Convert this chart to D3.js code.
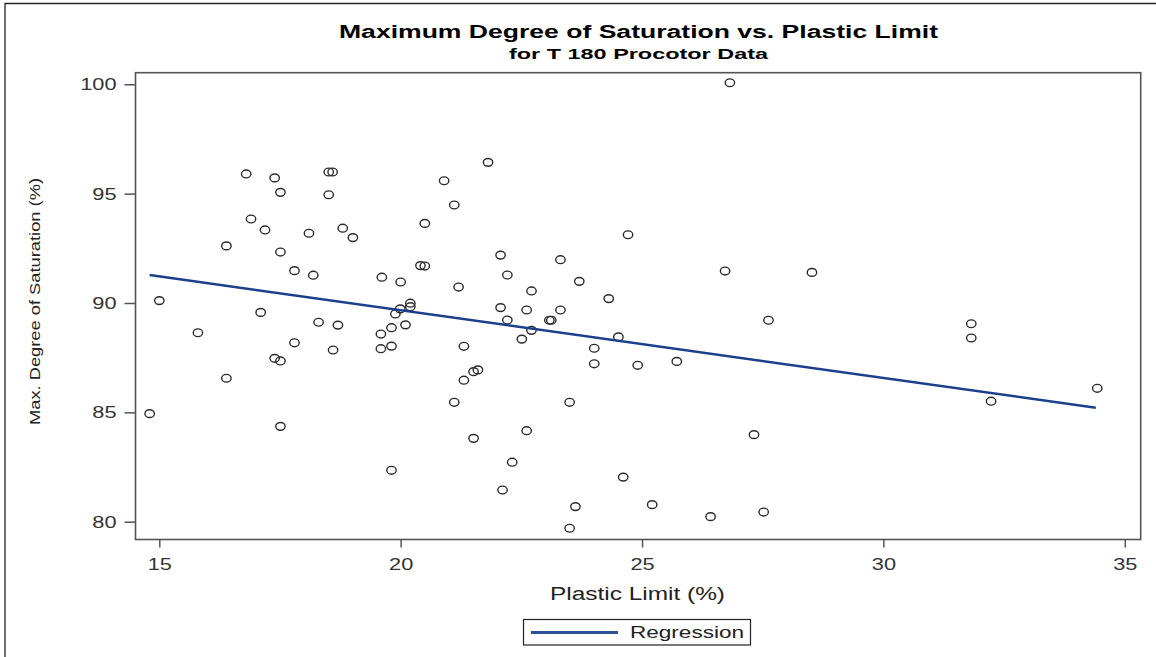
<!DOCTYPE html>
<html>
<head>
<meta charset="utf-8">
<script src="https://cdn.jsdelivr.net/npm/d3@7"></script>
<style>
  body { margin: 0; background: #fff; }
  text { font-family: "Liberation Sans", Arial, sans-serif; }
</style>
</head>
<body>
<script>
// data
const plasticLimit = [
  16.80, 17.39, 17.51, 18.51, 18.59, 18.51, 16.90, 17.19, 18.10, 18.80,
  19.01, 16.39, 17.51, 17.80, 18.19, 19.61, 20.00, 15.00, 17.10, 18.30,
  18.70, 15.80, 19.59, 19.81, 20.10, 19.89, 19.99, 20.20, 20.20, 17.80,
  18.60, 19.59, 19.81, 17.39, 17.51, 16.39, 14.80, 17.51, 19.81, 21.81,
  20.90, 21.11, 20.50, 20.41, 20.50, 22.07, 21.20, 22.07, 24.71, 23.31,
  22.21, 23.70, 22.71, 24.31, 22.61, 23.31, 22.21, 23.08, 23.12, 22.71,
  22.51, 24.51, 24.01, 21.31, 24.01, 24.91, 21.60, 21.51, 21.31, 21.11,
  23.50, 22.61, 21.51, 22.31, 24.61, 22.11, 23.62, 25.21, 23.50, 26.82,
  26.72, 28.52, 27.62, 25.72, 27.32, 26.42, 27.52, 31.82, 31.82, 32.23,
  34.43
];
const maxSaturation = [
  95.90, 95.72, 95.06, 95.99, 95.99, 94.95, 93.84, 93.34, 93.19, 93.42,
  92.99, 92.61, 92.33, 91.48, 91.27, 91.18, 90.96, 90.11, 89.57, 89.12,
  88.99, 88.64, 88.58, 88.87, 89.00, 89.50, 89.73, 89.99, 89.83, 88.18,
  87.85, 87.91, 88.03, 87.47, 87.35, 86.56, 84.94, 84.36, 82.35, 96.43,
  95.59, 94.48, 93.64, 91.71, 91.69, 92.19, 90.73, 89.79, 93.12, 91.98,
  91.28, 90.99, 90.55, 90.20, 89.68, 89.68, 89.22, 89.21, 89.21, 88.75,
  88.35, 88.45, 87.93, 88.02, 87.22, 87.15, 86.94, 86.86, 86.47, 85.46,
  85.46, 84.16, 83.81, 82.72, 82.04, 81.45, 80.69, 80.78, 79.70, 100.07,
  91.46, 91.40, 89.21, 87.33, 83.98, 80.23, 80.44, 89.05, 88.40, 85.51,
  86.10
];
// regression line end points
const regX = [14.8, 34.4];
const regY = [91.28, 85.21];

const xTicks = [15, 20, 25, 30, 35];
const yTicks = [80, 85, 90, 95, 100];

const W = 1156, H = 657;
const frame = {left: 135.5, top: 72.7, right: 1140.7, bottom: 539.5};
const lineColor = "#1c3f8c";

const svg = d3.select("body").append("svg")
  .attr("width", W)
  .attr("height", H);

// widen text to match the stretched look of the original
function widen(sel, f) {
  sel.each(function() {
    const w = this.getComputedTextLength();
    d3.select(this).attr("textLength", w * f).attr("lengthAdjust", "spacingAndGlyphs");
  });
}

// outer border (left + top)
svg.append("path")
  .attr("d", "M5,657 V3.5 H1156")
  .attr("fill", "none")
  .attr("stroke", "#222")
  .attr("stroke-width", 1.3);

const x = d3.scaleLinear()
  .domain([14.507, 35.33])
  .range([frame.left, frame.right]);

const y = d3.scaleLinear()
  .domain([79.186, 100.53])
  .range([frame.bottom, frame.top]);

// titles
svg.append("text")
  .attr("x", 638.5).attr("y", 37.5)
  .attr("text-anchor", "middle")
  .attr("font-size", 17.5).attr("font-weight", "bold")
  .attr("textLength", 599).attr("lengthAdjust", "spacingAndGlyphs")
  .text("Maximum Degree of Saturation vs. Plastic Limit");

svg.append("text")
  .attr("x", 638.5).attr("y", 59)
  .attr("text-anchor", "middle")
  .attr("font-size", 15).attr("font-weight", "bold")
  .attr("textLength", 259).attr("lengthAdjust", "spacingAndGlyphs")
  .text("for T 180 Procotor Data");

// axes
const gx = svg.append("g")
  .attr("transform", "translate(0," + frame.bottom + ")")
  .call(d3.axisBottom(x).tickValues(xTicks).tickSize(8).tickPadding(10).tickFormat(d3.format("d")));

const gy = svg.append("g")
  .attr("transform", "translate(" + frame.left + ",0)")
  .call(d3.axisLeft(y).tickValues(yTicks).tickSize(11).tickPadding(8).tickFormat(d3.format("d")));

[gx, gy].forEach(function(g) {
  g.select(".domain").remove();
  g.selectAll(".tick line").attr("stroke", "#555").attr("stroke-width", 1.5);
  g.selectAll(".tick text")
    .attr("font-size", 17)
    .attr("font-family", "'Liberation Sans', Arial, sans-serif")
    .attr("fill", "#333");
  widen(g.selectAll(".tick text"), 1.28);
});

// axis labels
svg.append("text")
  .attr("x", 637.5).attr("y", 600)
  .attr("text-anchor", "middle")
  .attr("font-size", 18)
  .attr("fill", "#222")
  .attr("textLength", 175).attr("lengthAdjust", "spacingAndGlyphs")
  .text("Plastic Limit (%)");

svg.append("text")
  .attr("transform", "translate(39.5,301.5) rotate(-90)")
  .attr("text-anchor", "middle")
  .attr("font-size", 15.5)
  .attr("fill", "#222")
  .attr("textLength", 247).attr("lengthAdjust", "spacingAndGlyphs")
  .text("Max. Degree of Saturation (%)");

// plot frame
svg.append("rect")
  .attr("x", frame.left).attr("y", frame.top)
  .attr("width", frame.right - frame.left)
  .attr("height", frame.bottom - frame.top)
  .attr("fill", "none")
  .attr("stroke", "#555")
  .attr("stroke-width", 1.6);

// points
const points = plasticLimit.map(function(d, i) { return {x: d, y: maxSaturation[i]}; });

svg.selectAll(".dot")
  .data(points)
  .enter().append("ellipse")
  .attr("class", "dot")
  .attr("cx", function(d) { return x(d.x); })
  .attr("cy", function(d) { return y(d.y); })
  .attr("rx", 4.7)
  .attr("ry", 3.9)
  .attr("fill", "none")
  .attr("stroke", "#2a2a2a")
  .attr("stroke-width", 1.4);

// regression line
const line = d3.line()
  .x(function(d) { return x(d[0]); })
  .y(function(d) { return y(d[1]); });

svg.append("path")
  .datum(regX.map(function(d, i) { return [d, regY[i]]; }))
  .attr("d", line)
  .attr("fill", "none")
  .attr("stroke", lineColor)
  .attr("stroke-width", 2.5);

// legend
const legend = svg.append("g");
legend.append("rect")
  .attr("x", 523.5).attr("y", 619.5)
  .attr("width", 227).attr("height", 25.5)
  .attr("fill", "#fff")
  .attr("stroke", "#222")
  .attr("stroke-width", 1.2);
legend.append("line")
  .attr("x1", 531).attr("x2", 618)
  .attr("y1", 632.5).attr("y2", 632.5)
  .attr("stroke", "#2b5198")
  .attr("stroke-width", 3);
legend.append("text")
  .attr("x", 630).attr("y", 637.5)
  .attr("font-size", 16)
  .attr("fill", "#222")
  .attr("textLength", 114).attr("lengthAdjust", "spacingAndGlyphs")
  .text("Regression");
</script>
</body>
</html>
